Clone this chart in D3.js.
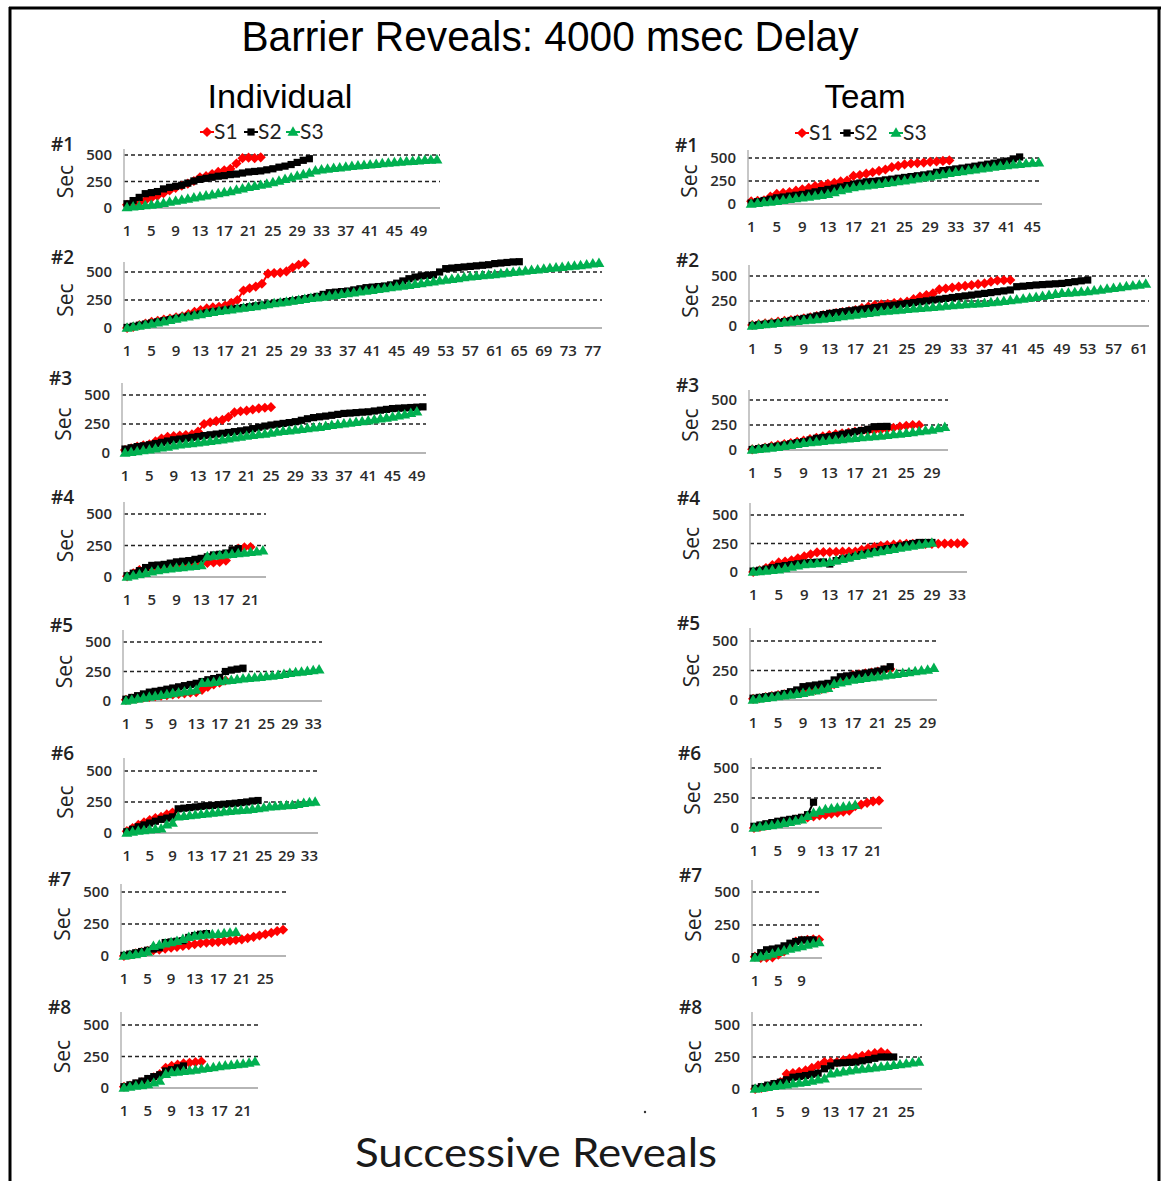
<!DOCTYPE html>
<html><head><meta charset="utf-8">
<script src="https://cdn.jsdelivr.net/npm/d3@7"></script>
<style>body{margin:0;background:#fff}</style>
</head><body>
<svg id="c" width="1161" height="1181"></svg>
<script>
// ---------------- DATA ----------------
const seriesNames = ["S1", "S2", "S3"];
const yTicks = [0, 250, 500];
const panelLabels = ["#1", "#2", "#3", "#4", "#5", "#6", "#7", "#8"];
const groupTitles = ["Individual", "Team"];
const mainTitle = "Barrier Reveals: 4000 msec Delay";
const xAxisTitle = "Successive Reveals";
const yAxisTitle = "Sec";

// number of reveal categories on each panel's x axis
const indCounts  = [52, 78, 50, 23, 34, 34, 28, 23];
const teamCounts = [46, 62, 31, 34, 30, 22, 12, 27];

// Individual
const ind1_S1 = [30,35,50,70,95,115,140,165,190,210,230,255,290,300,320,340,355,370,420,470,475,470,478];
const ind1_S2 = [40,70,100,135,145,155,180,195,205,215,235,255,270,280,290,300,305,315,320,330,340,345,350,360,370,385,395,410,430,450,465];
const ind1_S3 = [5,10,15,22,28,35,45,55,65,75,85,95,105,115,125,135,145,155,170,180,195,205,215,225,240,255,270,285,300,315,330,350,360,368,375,380,387,393,398,403,408,413,418,423,428,433,437,441,445,449,452,455];

const ind2_S1 = [0,10,25,40,55,65,75,85,95,105,125,145,160,175,185,190,200,225,250,335,355,370,395,485,490,495,505,540,565,578];
const ind2_S2 = [5,15,25,35,45,55,65,75,85,95,105,115,125,135,145,152,160,168,175,182,190,198,205,212,220,228,236,244,252,262,272,282,300,315,320,325,330,340,350,360,365,370,375,385,400,420,440,455,465,470,475,500,530,535,540,545,550,555,560,565,575,580,585,590,592];
const ind2_S3 = [0,8,16,26,36,46,56,68,80,90,100,110,120,130,140,148,156,163,170,177,184,192,200,208,217,224,232,240,248,256,264,270,277,285,292,300,308,315,322,330,337,345,352,360,368,375,382,390,397,405,412,420,428,435,442,450,457,462,468,473,478,484,490,496,502,508,514,520,526,532,537,542,548,553,558,565,572,578];

const ind3_S1 = [25,40,55,65,75,100,125,140,145,150,155,160,185,250,265,275,285,310,350,360,365,375,385,390,395];
const ind3_S2 = [34,45,55,62,71,82,92,103,114,120,127,135,142,150,157,163,170,177,184,191,199,210,222,232,241,248,255,262,270,282,295,305,312,318,325,333,341,344,348,352,355,362,369,376,383,386,389,392,395,398];
const ind3_S3 = [0,6,12,20,28,36,44,52,62,70,76,82,88,94,100,106,114,122,130,138,146,152,158,164,172,180,186,192,198,204,210,216,222,230,238,246,252,258,264,270,278,286,294,302,310,320,330,342,355];

const ind4_S1 = [5,30,55,62,68,74,80,86,92,97,102,106,110,112,115,120,130,205,225,235,238];
const ind4_S2 = [10,30,50,75,92,95,100,110,120,125,130,140,148,160,175,180,190,215,225];
const ind4_S3 = [0,10,20,30,40,50,58,65,70,75,80,85,90,160,165,170,175,180,185,190,195,200,208];

const ind5_S1 = [10,20,25,30,35,40,45,50,55,60,65,70,75,95,120,140,155,175];
const ind5_S2 = [15,30,45,60,75,82,90,100,110,120,130,140,150,165,180,190,200,250,262,270,278];
const ind5_S3 = [0,8,16,25,34,40,47,55,63,70,78,85,92,149,152,158,164,170,175,182,188,192,196,200,207,212,218,225,235,240,246,252,258,264];

const ind6_S1 = [15,40,65,85,105,120,130,150,165];
const ind6_S2 = [10,30,50,65,80,95,110,120,130,195,200,205,210,215,220,222,228,232,236,240,245,250,258,262];
const ind6_S3 = [0,8,15,20,26,30,34,66,79,131,135,140,145,150,155,160,165,171,175,178,182,184,190,196,202,210,214,218,222,224,232,240,246,250];

const ind7_S1 = [0,10,20,30,40,45,50,58,65,72,78,85,92,100,105,108,110,115,120,125,130,140,150,160,170,180,195,205];
const ind7_S2 = [5,15,25,35,45,55,65,105,110,115,120,145,160,170,175];
const ind7_S3 = [0,5,12,20,30,75,85,95,105,115,130,145,155,160,165,168,170,175,180,185];

const ind8_S1 = [10,20,30,45,65,85,110,160,175,185,195,200,205,210];
const ind8_S2 = [10,25,40,55,75,90,105,135,145,160,175];
const ind8_S3 = [0,8,15,20,27,40,54,108,122,127,132,137,143,150,157,163,170,175,180,185,189,198,208];

// Team
const team1_S1 = [30,35,40,80,110,120,130,145,160,175,195,205,220,230,245,255,305,315,330,345,360,375,400,415,430,440,445,450,458,462,468,474];
const team1_S2 = [10,25,38,52,67,76,86,95,104,118,132,146,159,172,185,200,215,228,241,246,252,262,270,280,289,298,307,316,326,345,363,372,381,390,400,411,422,433,444,455,466,490,511];
const team1_S3 = [0,8,15,22,30,40,50,58,67,76,86,95,104,125,145,162,178,188,198,206,215,224,234,243,252,263,274,285,296,308,320,332,344,353,362,372,381,390,400,409,418,425,432,438,444,448];

const team2_S1 = [10,18,26,34,43,51,59,67,76,87,98,109,120,130,140,150,160,178,195,210,216,222,230,236,243,268,293,310,326,366,375,384,393,401,409,418,426,443,455,458,460];
const team2_S2 = [5,12,19,26,33,44,55,66,76,88,101,114,126,135,143,152,160,168,176,185,193,201,209,218,226,234,243,251,260,268,276,285,293,301,309,318,326,334,343,351,360,393,398,404,410,414,418,422,426,434,443,452,460];
const team2_S3 = [0,6,13,20,26,33,40,46,53,59,65,70,76,85,93,102,110,118,126,135,143,149,155,160,166,171,176,181,186,192,198,204,210,214,218,222,226,233,240,246,253,261,269,278,286,296,306,316,326,330,334,339,343,351,359,368,376,385,393,402,410,418];

const team3_S1 = [7,15,25,38,50,60,70,82,93,108,122,136,150,158,166,175,183,187,191,196,200,212,222,233,242,250,248];
const team3_S2 = [5,14,23,31,40,50,62,73,83,100,117,125,133,145,158,170,183,195,207,233,235,236];
const team3_S3 = [0,6,12,20,27,37,47,57,67,74,80,87,93,99,105,111,117,123,129,134,140,147,154,160,167,175,183,192,200,213,227];

const team4_S1 = [0,15,35,60,84,92,102,120,137,155,172,174,175,176,178,179,180,195,210,220,230,235,240,244,247,247,247,247,247,248,249,250,251,253];
const team4_S2 = [8,15,25,38,49,56,64,72,79,83,86,88,70,100,115,125,137,152,166,180,195,205,215,228,239,250,259,259,259];
const team4_S3 = [0,4,8,14,20,30,42,53,64,69,74,79,84,97,110,124,137,148,159,170,180,190,199,209,218,227,236,245,253];

const team5_S1 = [10,15,25,33,42,48,54,60,65,75,85,95,104,135,169,190,211,218,226,233,240,252,262];
const team5_S2 = [15,22,28,35,42,55,70,85,113,120,127,134,141,170,197,204,211,220,228,236,245,262,282];
const team5_S3 = [0,7,14,21,28,35,42,49,56,67,78,88,99,133,145,157,169,176,183,190,197,204,211,218,225,232,240,247,254,268];

const team6_S1 = [0,10,20,32,42,50,60,70,78,88,97,104,111,120,128,137,145,181,195,210,222,228];
const team6_S2 = [14,25,35,45,56,64,72,80,89,111,215];
const team6_S3 = [0,7,14,21,28,38,48,58,69,97,125,139,153,160,167,174,181,189];

const team7_S1 = [10,0,2,5,25,50,87,125,132,137,142,140];
const team7_S2 = [10,40,62,68,75,92,112,125,137,137,137];
const team7_S3 = [0,8,17,30,42,55,67,77,87,97,107,117];

const team8_S1 = [0,8,18,35,53,118,125,135,145,165,184,210,210,210,225,238,250,260,270,280,289,276];
const team8_S2 = [5,18,30,42,53,72,92,98,105,115,124,158,180,203,205,208,210,220,229,240,250,250,250];
const team8_S3 = [0,6,13,20,26,33,40,47,53,62,71,79,118,126,134,142,150,155,160,166,171,178,184,190,197,204,210];

const indSeries = [
  [ind1_S1, ind1_S2, ind1_S3], [ind2_S1, ind2_S2, ind2_S3], [ind3_S1, ind3_S2, ind3_S3], [ind4_S1, ind4_S2, ind4_S3],
  [ind5_S1, ind5_S2, ind5_S3], [ind6_S1, ind6_S2, ind6_S3], [ind7_S1, ind7_S2, ind7_S3], [ind8_S1, ind8_S2, ind8_S3]];
const teamSeries = [
  [team1_S1, team1_S2, team1_S3], [team2_S1, team2_S2, team2_S3], [team3_S1, team3_S2, team3_S3], [team4_S1, team4_S2, team4_S3],
  [team5_S1, team5_S2, team5_S3], [team6_S1, team6_S2, team6_S3], [team7_S1, team7_S2, team7_S3], [team8_S1, team8_S2, team8_S3]];

// ---------------- LAYOUT ----------------
const indLayout = [
  {x0:124, x1:440, y0:208, y500:155, top:149},
  {x0:124, x1:602, y0:328, y500:272, top:262},
  {x0:122, x1:426, y0:453, y500:395, top:383},
  {x0:124, x1:266, y0:577, y500:514, top:502},
  {x0:123, x1:322, y0:701, y500:642, top:630},
  {x0:124, x1:318, y0:833, y500:771, top:758},
  {x0:121, x1:286, y0:956, y500:892, top:884},
  {x0:121, x1:258, y0:1088, y500:1025, top:1012}];
const teamLayout = [
  {x0:748, x1:1042, y0:204, y500:158, top:150},
  {x0:749, x1:1149, y0:326, y500:276, top:265},
  {x0:749, x1:948, y0:450, y500:400, top:390},
  {x0:750, x1:967, y0:572, y500:515, top:503},
  {x0:750, x1:937, y0:700, y500:641, top:628},
  {x0:751, x1:882, y0:828, y500:768, top:758},
  {x0:752, x1:822, y0:958, y500:892, top:880},
  {x0:752, x1:922, y0:1089, y500:1025, top:1012}];

const colors = ["#ff0000", "#000000", "#00b050"];
const tickFont = "'Open Sans', sans-serif";
const svg = d3.select("#c");

// border
svg.append("line").attr("x1",10).attr("x2",10).attr("y1",7).attr("y2",1181).attr("stroke","#000").attr("stroke-width",3);
svg.append("line").attr("x1",9).attr("x2",1161).attr("y1",8).attr("y2",8).attr("stroke","#000").attr("stroke-width",3);
svg.append("line").attr("x1",1159).attr("x2",1159).attr("y1",7).attr("y2",1181).attr("stroke","#000").attr("stroke-width",3);

// titles
svg.append("text").attr("x",550).attr("y",51).attr("text-anchor","middle")
  .attr("font-family","'Liberation Sans', Arial, sans-serif").attr("font-size",42)
  .attr("textLength",617).attr("lengthAdjust","spacingAndGlyphs").text(mainTitle);
svg.append("text").attr("x",280).attr("y",108).attr("text-anchor","middle")
  .attr("font-family","'Liberation Sans', Arial, sans-serif").attr("font-size",33)
  .attr("textLength",145).attr("lengthAdjust","spacingAndGlyphs").text(groupTitles[0]);
svg.append("text").attr("x",865).attr("y",108).attr("text-anchor","middle")
  .attr("font-family","'Liberation Sans', Arial, sans-serif").attr("font-size",33)
  .attr("textLength",81).attr("lengthAdjust","spacingAndGlyphs").text(groupTitles[1]);
svg.append("text").attr("x",536).attr("y",1167).attr("text-anchor","middle")
  .attr("font-family","Lato, sans-serif").attr("font-size",40).attr("fill","#1a1a1a")
  .attr("textLength",362).attr("lengthAdjust","spacingAndGlyphs").text(xAxisTitle);
svg.append("circle").attr("cx",645).attr("cy",1112).attr("r",1.2).attr("fill","#333");

function marker(g, k, x, y) {
  if (k === 0) {
    g.append("rect").attr("x",x-3.6).attr("y",y-3.6).attr("width",7.2).attr("height",7.2)
      .attr("transform",`rotate(45,${x},${y})`).attr("fill",colors[0]);
  } else if (k === 1) {
    g.append("rect").attr("x",x-3.6).attr("y",y-3.6).attr("width",7.2).attr("height",7.2).attr("fill",colors[1]);
  } else {
    g.append("path").attr("d", d3.symbol().type(d3.symbolTriangle).size(52)()).attr("transform",`translate(${x},${y+0.5})`).attr("fill",colors[2]);
  }
}

// legends
function legend(xs, y) {
  const g = svg.append("g");
  seriesNames.forEach((s, k) => {
    g.append("line").attr("x1",xs[k]-7).attr("x2",xs[k]+7).attr("y1",y).attr("y2",y).attr("stroke",colors[k]).attr("stroke-width",2);
    marker(g, k, xs[k], y);
    g.append("text").attr("x",xs[k]+7).attr("y",y+7).attr("font-family","Lato, sans-serif").attr("font-size",21)
      .attr("fill","#222").text(s);
  });
}
legend([207, 251, 293], 132);
legend([802, 847, 896], 133);

function panel(layout, counts, seriesArr, idx) {
  const L = layout, N = counts;
  const cats = d3.range(1, N + 1);
  const x = d3.scaleBand().domain(cats).range([L.x0, L.x1]);
  const y = d3.scaleLinear().domain([0, 500]).range([L.y0, L.y500]);
  const cx = i => x(i) + x.bandwidth() / 2;
  const g = svg.append("g");

  // gridlines
  yTicks.filter(t => t > 0).forEach(t => {
    g.append("line").attr("x1", L.x0).attr("x2", L.x1).attr("y1", y(t)).attr("y2", y(t))
      .attr("stroke", "#222").attr("stroke-width", 1.3).attr("stroke-dasharray", "4,3");
  });
  // axes lines
  g.append("line").attr("x1", L.x0).attr("x2", L.x0).attr("y1", L.top).attr("y2", L.y0)
    .attr("stroke", "#b5b5b5").attr("stroke-width", 1.5);
  g.append("line").attr("x1", L.x0).attr("x2", L.x1).attr("y1", L.y0).attr("y2", L.y0)
    .attr("stroke", "#b5b5b5").attr("stroke-width", 1.8);

  // y ticks
  const ya = g.append("g").attr("transform", `translate(${L.x0},0)`)
    .call(d3.axisLeft(y).tickValues(yTicks).tickSize(0).tickPadding(12));
  ya.select(".domain").remove();
  ya.selectAll("text").attr("font-family", tickFont).attr("font-size", 15).attr("font-weight", 600).attr("fill", "#2b2b2b");

  // x ticks
  const xTickVals = cats.filter(c => (c - 1) % 4 === 0);
  const xa = g.append("g").attr("transform", `translate(0,${L.y0})`)
    .call(d3.axisBottom(x).tickValues(xTickVals).tickSize(0).tickPadding(17));
  xa.select(".domain").remove();
  xa.selectAll("text").attr("font-family", tickFont).attr("font-size", 15).attr("font-weight", 600).attr("fill", "#2b2b2b");

  // labels
  g.append("text").attr("x", L.x0 - 73).attr("y", L.top + 2).attr("font-family", tickFont)
    .attr("font-size", 19).attr("font-weight", 600).attr("fill", "#222").text(panelLabels[idx]);
  g.append("text").attr("transform", `translate(${L.x0 - 51},${(L.y0 + L.y500) / 2}) rotate(-90)`)
    .attr("text-anchor", "middle").attr("font-family", tickFont).attr("font-size", 21).attr("fill", "#222").text(yAxisTitle);

  // series
  seriesArr.forEach((vals, k) => {
    const pts = vals.map((v, i) => [cx(i + 1), y(v)]);
    g.append("path").attr("d", d3.line()(pts)).attr("fill", "none").attr("stroke", colors[k]).attr("stroke-width", 2);
    pts.forEach(p => marker(g, k, p[0], p[1]));
  });
}

indLayout.forEach((L, i) => panel(L, indCounts[i], indSeries[i], i));
teamLayout.forEach((L, i) => panel(L, teamCounts[i], teamSeries[i], i));
</script>
</body></html>
